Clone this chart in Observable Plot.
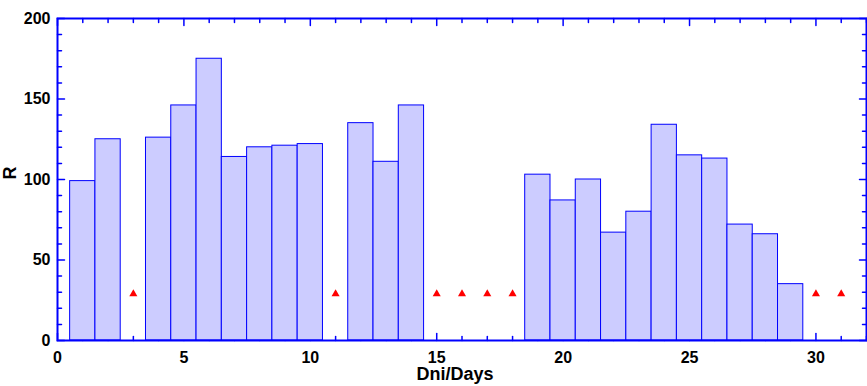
<!DOCTYPE html>
<html><head><meta charset="utf-8">
<script src="https://cdn.jsdelivr.net/npm/d3@7"></script>
<script src="https://cdn.jsdelivr.net/npm/@observablehq/plot@0.6"></script>
<style>body{margin:0;background:#fff}</style>
</head><body><div id="chart"></div>
<script>
const days = [1,2,4,5,6,7,8,9,10,12,13,14,19,20,21,22,23,24,25,26,27,28,29];
const values = [99,125,126,146,175,114,120,121,122,135,111,146,103,87,100,67,80,134,115,113,72,66,35];
const missingDays = [3,11,15,16,17,18,30,31];
const missingLevel = 29;
const xLabelTicks = [0,5,10,15,20,25,30];
const yLabelTicks = [0,50,100,150,200];
const xMinorTicks = d3.range(0,33).filter(d => d % 5 !== 0);
const yMinorTicks = d3.range(0,201,10).filter(d => d % 50 !== 0);
const xLabel = "Dni/Days";
const yLabel = "R";

const bars = days.map((d,i) => ({day: d, r: values[i]}));
const blue = "#0000ff";
const tickShape = {draw(ctx, l){ ctx.moveTo(0,0); ctx.lineTo(0,-l); }};
const tk = (data, opts, len) => Plot.vector(data, {...opts, length: len, anchor: "start", shape: tickShape, stroke: blue, strokeWidth: 1.5});

const chart = Plot.plot({
  width: 867, height: 386,
  marginLeft: 57, marginRight: 1, marginTop: 18, marginBottom: 46,
  style: {fontFamily: "'Liberation Sans', Arial, sans-serif", background: "#fff"},
  x: {domain: [0,32]},
  y: {domain: [0,200]},
  marks: [
    // bottom ticks (behind bars)
    tk(xLabelTicks, {x: d=>d, y: 0, rotate: 0}, 7),
    tk(xMinorTicks, {x: d=>d, y: 0, rotate: 0}, 4),
    Plot.rectY(bars, {x1: d=>d.day-0.5, x2: d=>d.day+0.5, y: "r", fill: "#ccccff", stroke: blue, strokeWidth: 1}),
    Plot.dot(missingDays, {x: d=>d, y: missingLevel, symbol: "triangle", fill: "#ff0000", r: 3}),
    tk(xLabelTicks, {x: d=>d, y: 200, rotate: 180}, 7),
    tk(xMinorTicks, {x: d=>d, y: 200, rotate: 180}, 4),
    tk(yLabelTicks, {x: 0, y: d=>d, rotate: 90}, 7),
    tk(yMinorTicks, {x: 0, y: d=>d, rotate: 90}, 4),
    tk(yLabelTicks, {x: 32, y: d=>d, rotate: -90}, 7),
    tk(yMinorTicks, {x: 32, y: d=>d, rotate: -90}, 4),
    Plot.frame({stroke: blue, strokeWidth: 2}),
    Plot.axisX(xLabelTicks, {tickSize: 0, tickPadding: 11, fontSize: 16, fontWeight: "bold", fill: "#000", label: null}),
    Plot.axisY(yLabelTicks, {tickSize: 0, tickPadding: 7, fontSize: 16, fontWeight: "bold", fill: "#000", label: null}),
    Plot.text([xLabel], {text: d=>d, frameAnchor: "bottom", dx: -7, dy: 34, lineAnchor: "middle", fontSize: 18, fontWeight: "bold", fill: "#000"}),
    Plot.text([yLabel], {text: d=>d, frameAnchor: "left", dx: -47, rotate: -90, fontSize: 18, fontWeight: "bold", fill: "#000"})
  ]
});
document.getElementById("chart").appendChild(chart);
</script>
</body></html>
